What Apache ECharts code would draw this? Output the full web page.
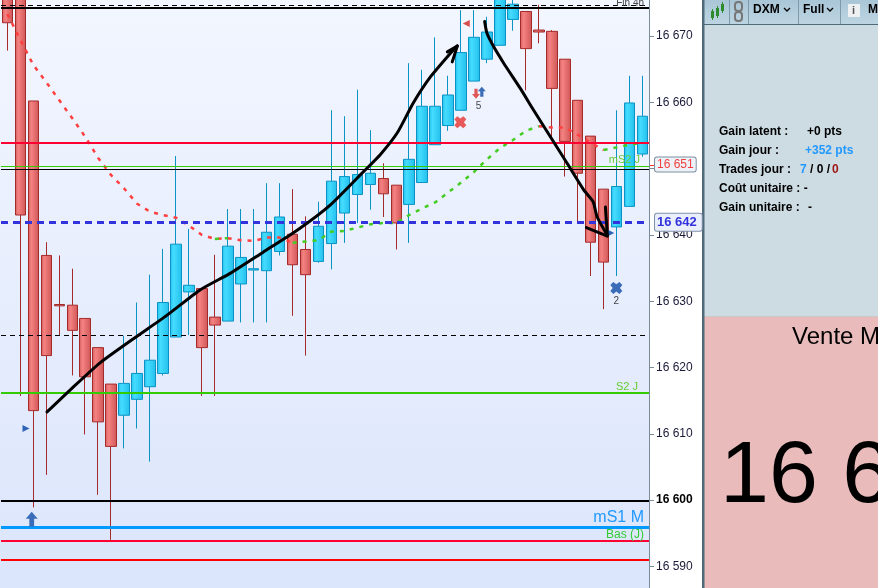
<!DOCTYPE html>
<html>
<head>
<meta charset="utf-8">
<title>DXM</title>
<style>
html,body{margin:0;padding:0;background:#fff;overflow:hidden;}
#chart{width:878px;height:588px;}
</style>
<script src="https://cdn.jsdelivr.net/npm/echarts@6/dist/echarts.min.js"></script>
</head>
<body>
<div id="chart"></div>
<script>
//candles
var opens=[16678,16680,16660.2,16636.9,16629.5,16629.4,16627.4,16623,16617.5,16612.8,
    16615.2,16617.1,16619.1,16624.6,16631.4,16631.9,16627.6,16627,16632.6,16634.7,
    16634.6,16637.5,16640.1,16637.8,16636,16638.7,16643.3,16646.1,16647.6,16648.5,
    16647.5,16644.6,16647.9,16653.6,16656.5,16658.8,16663.2,16666.5,16668.6,16672.5,
    16673.7,16670.9,16670.7,16666.5,16660.3,16654.9,16646.9,16641.2,16644.3,16652.2];
var closes=[16672,16643,16613.5,16621.8,16629.3,16625.6,16618.6,16611.8,16608.1,16617.6,
    16619.1,16621.1,16629.8,16638.6,16632.4,16623,16626.4,16638.3,16636.6,16634.9,
    16640.4,16642.7,16635.5,16634,16641.3,16648.1,16648.8,16649.1,16649.3,16646.2,
    16641.8,16651.4,16659.4,16659.4,16661.1,16667.5,16669.8,16670.6,16676.6,16674.8,
    16668.1,16670.6,16662.1,16654.1,16649.3,16638.9,16635.9,16647.3,16659.9,16657.9];
var lows=[16667.8,16615.7,16598.9,16603.8,16624.9,16618.8,16609.9,16600.8,16594,16607.8,
    16610.8,16605.8,16618.8,16624.6,16624.9,16615.7,16615.7,16627,16626.8,16626.8,
    16626.8,16636.9,16627.8,16621.8,16635.8,16634.8,16638.8,16641.8,16643.8,16642.7,
    16637.8,16638.8,16647.9,16653.6,16655.7,16658.8,16663.2,16665.9,16668.6,16670.8,
    16661.8,16668.9,16654.3,16648.8,16642,16633.8,16628.8,16633.8,16644.3,16651.8];
var highs=[16680,16681,16660.2,16638.9,16636.9,16634.9,16627.4,16623,16617.5,16624.8,
    16629.8,16634,16637.9,16651.9,16640.9,16631.9,16637,16643.9,16643.9,16643.9,
    16647.8,16647.8,16646.9,16642.8,16645,16658.8,16657.9,16661.9,16655.8,16650.8,
    16647.5,16665.9,16664.9,16669.8,16664,16673.9,16673.9,16672.9,16678,16677,
    16673.7,16674.7,16670.9,16666.5,16660.3,16654.9,16646.9,16658.8,16664,16664];

//moving average, red part and green part
var maRed=[16673.3,16669.4,16665.6,16663,16660.3,16657.6,16654.8,16651.6,16649,16647,
    16644.7,16643.5,16643,16642.6,16641.4,16640,16639.4,16639.5,16639.2,16639.1,
    16639.6,16639.6,16638.8,null,null,null,null,null,null,null,
    null,null,null,null,null,null,null,null,null,null,
    null,16656.4,16656.2,16656.2,16655.1,16653.9,16652.8,null,null,null];
var maGreen=[null,null,null,null,null,null,null,null,null,null,
    null,null,null,null,null,null,16639.4,16639.5,null,null,
    null,null,16638.8,16639,16639.2,16640.5,16640.6,16641.1,16641.6,16641.8,
    16641.8,16643,16644,16644.9,16646.4,16647.9,16649.5,16651.4,16653.1,16654.3,
    16655.7,16656.4,null,null,null,null,16652.8,16653.2,16653.6,16653.9];

//horizontal levels
var levelDashTop=16674.7, levelTop=16674.2, levelRed=16653.9, levelMS2=16650.35, levelBlack=16649.9;
var levelLast=16641.9, levelDash=16624.9, levelS2=16616.15, level16600=16599.9;
var levelMS1=16595.9, levelBas=16593.8, levelLow=16591;
var tagPrice=16650.6;

//hand drawn arrows, [candle index, price]
var arrowUp=[[3.05,16613.3],[4.83,16616.6],[7.14,16620.7],[9.69,16624.3],[12.32,16627.9],[14.86,16631.7],
    [17.18,16634.2],[19.73,16637.4],[22.35,16640.7],[24.9,16644.5],[27.45,16649.5],[28.76,16652.1],
    [30.08,16655.4],[31.31,16659.9],[32.62,16663.8],[34.4,16667.9],[34.71,16668.5]];
var arrowUpHead=[[33.94,16667.6],[34.71,16668.5],[34.32,16666.1]];
var arrowDown=[[36.82,16672.2],[37,16670.4],[37.51,16668.4],[38.29,16665.9],[39.57,16662.1],[40.6,16658.8],
    [41.89,16654.8],[43.18,16650.8],[44.46,16646.8],[45.19,16645],[45.5,16642.7],[46.27,16640]];
var arrowDownHead=[[44.67,16641.1],[46.29,16639.8],[46.14,16644.2]];

//order markers, [candle index, price]
var buyArrows=[[1.87,16597.1],[36.6,16661.6]];
var sellArrows=[[36.15,16661.3]];
var redCross=[[34.94,16657]];
var blueCross=[[46.98,16632]];
var blueFlags=[[1.43,16610.8],[46.55,16640.3]];
var redFlags=[[35.4,16671.9]];
var tradeCounts=[[36.35,16659.4,'5'],[46.98,16630,'2']];

var categories=opens.map(function(v,i){return i;});
var candleData=opens.map(function(v,i){return [opens[i],closes[i],lows[i],highs[i]];});

function grad(a,b,c){
    return new echarts.graphic.LinearGradient(0,0,1,0,[{offset:0,color:a},{offset:0.3,color:b},{offset:1,color:c}]);
}

function level(v,color,width,type,label){
    var d={yAxis:v,lineStyle:{color:color,width:width,type:type||'solid'},label:{show:false}};
    if(label){d.label=label;}
    return d;
}
function endText(text,color,size,dist){
    return {show:true,position:'insideEndTop',formatter:text,color:color,fontSize:size,
        fontFamily:'Liberation Sans',distance:dist};
}

function marker(data,symbol,size,color,rotate){
    return {type:'scatter',xAxisIndex:1,yAxisIndex:0,data:data,symbol:symbol,symbolSize:size,
        symbolRotate:rotate||0,itemStyle:{color:color,opacity:1},silent:true,z:6};
}

function hand(data,smooth){
    return {type:'line',xAxisIndex:1,yAxisIndex:0,data:data,symbol:'none',smooth:smooth,silent:true,z:7,
        lineStyle:{color:'#000',width:3,cap:'round',join:'round'}};
}

var crossPath='path://M2.5 0 L5 2 L7.5 0 L10 2.5 L8 5 L10 7.5 L7.5 10 L5 8 L2.5 10 L0 7.5 L2 5 L0 2.5 Z';
var arrowPath='path://M5 0 L10 6 L7 6 L7 13 L3 13 L3 6 L0 6 Z';

//right hand panel
var font='Liberation Sans';
function txt(x,y,text,color,size,weight){
    return {type:'text',x:x,y:y,style:{text:text,fill:color||'#000',font:(weight||'bold')+' '+(size||12)+'px "'+font+'"',
        textVerticalAlign:'middle'}};
}
function box(x,y,w,h,fill,z){
    return {type:'rect',x:x,y:y,z:z||0,shape:{width:w,height:h},style:{fill:fill}};
}
var panel=[
    {type:'rect',x:0,y:0,z:-1,shape:{width:649,height:588},style:{fill:new echarts.graphic.LinearGradient(0,0,0,1,[
        {offset:0,color:'#f2f6ff'},{offset:1,color:'#dbe5fb'}])}},
    box(703,0,175,317,'#cddbe3'),
    {type:'rect',x:703,y:0,shape:{width:175,height:24},style:{fill:new echarts.graphic.LinearGradient(0,0,0,1,[
        {offset:0,color:'#a9c6d6'},{offset:1,color:'#bdd5e2'}])}},
    box(703,24,175,1,'#4f6a78'),
    box(703,317,175,271,'#e9bcbb'),
    box(703,316,175,1,'#c9c9c9'),
    box(702,0,2.5,588,'#4f6a78'),
    box(729,0,1,24,'#7f9aa9'),box(748,0,1,24,'#7f9aa9'),box(798,0,1,24,'#7f9aa9'),box(840,0,1,24,'#7f9aa9'),
    //candle icon
    box(711,11,3,7,'#2e8b2e'),box(712,9,1,11,'#2e8b2e'),box(716,8,3,8,'#2e8b2e'),box(717,6,1,12,'#2e8b2e'),
    box(721,4,3,7,'#2e8b2e'),box(722,2,1,11,'#2e8b2e'),
    //chain icon
    {type:'rect',x:735,y:2,shape:{width:7,height:9,r:3},style:{fill:'none',stroke:'#777',lineWidth:2}},
    {type:'rect',x:735,y:12,shape:{width:7,height:9,r:3},style:{fill:'none',stroke:'#777',lineWidth:2}},
    txt(753,10,'DXM'),
    txt(803,10,'Full'),
    {type:'polyline',shape:{points:[[784,8],[787,11],[790,8]]},style:{stroke:'#000',fill:'none',lineWidth:1.3}},
    {type:'polyline',shape:{points:[[827,8],[830,11],[833,8]]},style:{stroke:'#000',fill:'none',lineWidth:1.3}},
    box(848,4,12,13,'#eef1f2'),
    txt(852,11,'i','#555',11),
    txt(868,10,'M'),
    txt(719,132,'Gain latent :'),
    txt(807,132,'+0 pts'),
    txt(719,151,'Gain jour :'),
    txt(805,151,'+352 pts','#2299ff'),
    txt(719,170,'Trades jour :'),
    txt(800,170,'7','#2299ff'),
    txt(810,170,'/ 0 /'),
    txt(832,170,'0','#a01818'),
    txt(719,189,'Coût unitaire : -'),
    txt(719,208,'Gain unitaire :'),
    txt(808,208,'-'),
    txt(792,337,'Vente M','#000',24,'normal'),
    txt(720,478,'16 6','#000',88,'normal'),
    box(649,165,5,1,'#ff3030')
];

//1.init
var myChart=echarts.init(document.getElementById('chart'));

//2.option
var option={
    animation:false,
    backgroundColor:'#fff',
    graphic:{elements:panel},
    grid:{left:1,width:648,top:-30.3,height:663,outerBoundsMode:'none'},
    xAxis:[
        {type:'category',data:categories,show:false,boundaryGap:true},
        {type:'value',min:-0.5,max:49.5,show:false}
    ],
    yAxis:{
        type:'value',position:'right',min:16580,max:16680,interval:10,scale:true,
        splitLine:{show:false},
        axisLine:{show:true,onZero:false,lineStyle:{color:'#7a8b99',width:1}},
        axisTick:{show:true,length:5,lineStyle:{color:'#7a8b99'}},
        axisLabel:{
            margin:7,fontFamily:font,fontSize:12,color:'#1a1a3a',showMinLabel:false,showMaxLabel:false,
            formatter:function(v){
                if(v===16650){return '';}
                var s=String(v).replace(/(\d\d)(\d\d\d)/,'$1 $2');
                return v===16600?'{b|'+s+'}':s;
            },
            rich:{b:{fontFamily:font,fontSize:12,fontWeight:'bold',color:'#000'}}
        }
    },
    series:[
        {
            type:'candlestick',
            data:candleData,
            barWidth:11,
            silent:true,
            itemStyle:{
                color:grad('#22bfec','#45dcff','#22bfec'),
                color0:grad('#d25c5c','#f58282','#cf5555'),
                borderColor:'#0a93c4',
                borderColor0:'#a52a2a',
                borderWidth:1
            },
            markLine:{
                symbol:'none',silent:true,animation:false,
                data:[
                    level(levelDashTop,'#000',1,[5,4]),
                    level(levelTop,'#000',2,'solid',endText('Fin 4h','#444',10,[5,0])),
                    level(levelRed,'#ff0033',2),
                    level(levelMS2,'#33cc00',1,'solid',endText('mS2 J','#66cc33',11,[9,1])),
                    level(levelBlack,'#000',1),
                    level(levelLast,'#3333dd',3,[7,5],{show:true,position:'end',formatter:'16 642',distance:[6,0],
                        color:'#3333dd',fontFamily:font,fontWeight:'bold',fontSize:13,backgroundColor:'#eaf0fb',
                        borderColor:'#8090a8',borderWidth:1,borderRadius:2,padding:[2,5,2,2]}),
                    level(levelDash,'#000',1,[5,4]),
                    level(levelS2,'#33cc00',2,'solid',endText('S2 J','#66cc33',11,[11,1])),
                    level(level16600,'#000',2),
                    level(levelMS1,'#0099ff',3,'solid',endText('mS1 M','#2299ff',16,[5,2])),
                    level(levelBas,'#ff0033',2,'solid',endText('Bas (J)','#33cc33',12,[5,1])),
                    level(levelLow,'#ff0000',2),
                    level(tagPrice,'rgba(0,0,0,0)',0,'solid',{show:true,position:'end',formatter:'16 651',distance:[6,0],
                        color:'#f04040',fontFamily:font,fontSize:12,backgroundColor:'#eef2f8',
                        borderColor:'#7a8fa0',borderWidth:1,borderRadius:2,padding:[1,2,1,2]})
                ]
            }
        },
        {type:'line',data:maRed,symbol:'none',silent:true,z:4,
            lineStyle:{color:'#ff4040',width:2.5,type:[4,6]}},
        {type:'line',data:maGreen,symbol:'none',silent:true,z:4,
            lineStyle:{color:'#44cc22',width:2.5,type:[4,6]}},
        hand(arrowUp,0.2),
        hand(arrowUpHead,false),
        hand(arrowDown,0.2),
        hand(arrowDownHead,false),
        marker(buyArrows,arrowPath,function(v,p){return p.dataIndex===0?[12,15]:[8,10];},'#3a6cb8'),
        marker(sellArrows,'path://M3 0 L7 0 L7 7 L10 7 L5 13 L0 7 L3 7 Z',[8,10],'#e05555'),
        marker(redCross,crossPath,12,'#e85a5a'),
        marker(blueCross,crossPath,12,'#3a6cb8'),
        marker(blueFlags,'triangle',7,'#2f63b5',-90),
        marker(redFlags,'triangle',7,'#d84c4c',90),
        {type:'scatter',xAxisIndex:1,yAxisIndex:0,data:tradeCounts,symbolSize:0,silent:true,z:6,
            label:{show:true,position:'inside',formatter:function(p){return p.value[2];},
                color:'#111',fontFamily:font,fontSize:10}}
    ]
};

//3.draw
myChart.setOption(option);
</script>
</body>
</html>
